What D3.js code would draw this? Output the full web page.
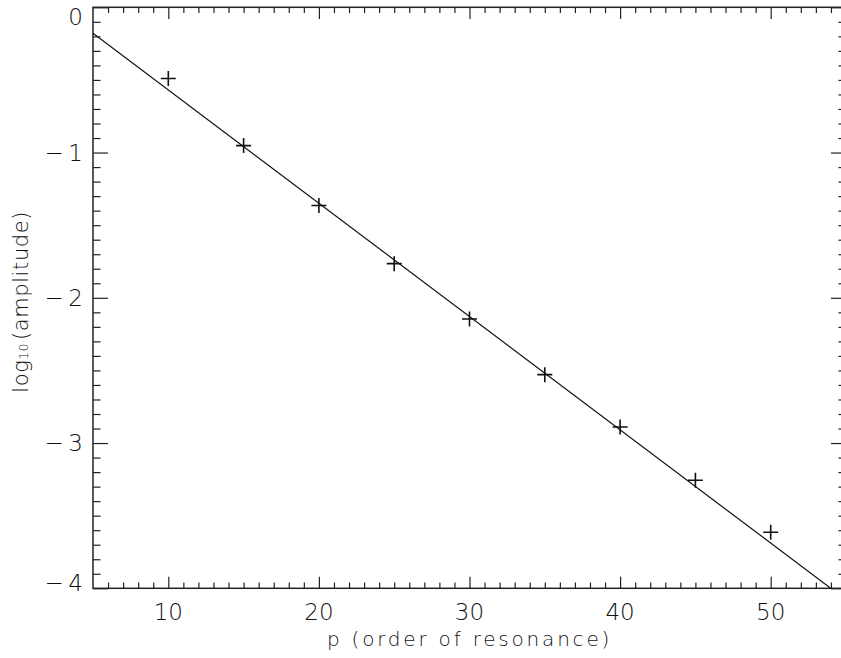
<!DOCTYPE html>
<html>
<head>
<meta charset="utf-8">
<script src="https://cdn.jsdelivr.net/npm/d3@7"></script>
<style>
  html, body { margin: 0; padding: 0; background: #fff; }
  svg { display: block; overflow: hidden; }
  text { font-family: "DejaVu Sans ExtraLight", "DejaVu Sans", sans-serif; font-weight: 200; fill: #111; }
</style>
</head>
<body>
<div id="chart"></div>
<script>
// resonance order p vs log10 amplitude
const pValues = [10, 15, 20, 25, 30, 35, 40, 45, 50]
const logAmp = [-0.49, -0.952, -1.365, -1.765, -2.146, -2.529, -2.889, -3.256, -3.614]
// least-squares line shown on the plot
const fitIntercept = 0.211
const fitSlope = -0.078
const xDomain = [5, 55]
const yDomain = [-4, 0]
const xMajor = [10, 20, 30, 40, 50]
const yMajor = [0, -1, -2, -3, -4]

const width = 841, height = 658
const margin = {top: 7.3, left: 93, right: -5, bottom: 69.7}
const x = d3.scaleLinear().domain(xDomain).range([margin.left, width - margin.right])
const y = d3.scaleLinear().domain(yDomain).range([height - margin.bottom, margin.top])
const plotW = x.range()[1] - x.range()[0]
const plotH = y.range()[0] - y.range()[1]
const xLen = plotH * 0.02, yLen = plotW * 0.02

const svg = d3.select('#chart').append('svg')
  .attr('width', width)
  .attr('height', height)

svg.append('clipPath').attr('id', 'plot-clip')
  .append('rect')
  .attr('x', x(xDomain[0])).attr('y', y(yDomain[1]))
  .attr('width', plotW).attr('height', plotH)

let xMinor = d3.range(xDomain[0] + 1, xDomain[1], 1).filter(v => !xMajor.includes(v))
let yMinor = d3.range(-39, 0, 1).map(v => v / 10).filter(v => !yMajor.includes(v))

function ticks(axis, scale, vals, len, pos) {
  let g = svg.append('g')
    .attr('transform', pos)
    .call(axis(scale).tickValues(vals).tickSize(-len).tickFormat(''))
  g.select('.domain').remove()
  g.selectAll('line').attr('stroke', '#222').attr('stroke-width', 1.2)
  return g
}

let bottomY = y(yDomain[0]), topY = y(yDomain[1])
let leftX = x(xDomain[0]), rightX = x(xDomain[1])

// bottom / top
ticks(d3.axisBottom, x, xMajor, xLen, `translate(0,${bottomY})`)
ticks(d3.axisBottom, x, xMinor, xLen / 2, `translate(0,${bottomY})`)
ticks(d3.axisTop, x, xMajor, xLen, `translate(0,${topY})`)
ticks(d3.axisTop, x, xMinor, xLen / 2, `translate(0,${topY})`)
// left / right
ticks(d3.axisLeft, y, yMajor, yLen, `translate(${leftX},0)`)
ticks(d3.axisLeft, y, yMinor, yLen / 2, `translate(${leftX},0)`)
ticks(d3.axisRight, y, yMajor, yLen, `translate(${rightX},0)`)
ticks(d3.axisRight, y, yMinor, yLen / 2, `translate(${rightX},0)`)

svg.append('rect')
  .attr('x', leftX).attr('y', topY)
  .attr('width', plotW).attr('height', plotH)
  .attr('fill', 'none')
  .attr('stroke', '#222')
  .attr('stroke-width', 1.5)

// tick labels
svg.append('g').selectAll('text')
  .data(xMajor)
  .join('text')
  .attr('x', d => x(d))
  .attr('y', bottomY + 32)
  .attr('text-anchor', 'middle')
  .attr('font-size', 23)
  .text(d => d)

svg.append('g').selectAll('text')
  .data(yMajor)
  .join('text')
  .attr('x', 83)
  .attr('y', d => Math.min(Math.max(y(d), topY + 9), bottomY - 6))
  .attr('dy', '0.36em')
  .attr('text-anchor', 'end')
  .attr('font-size', 23)
  .text(d => d === 0 ? '0' : '\u2212\u2009' + Math.abs(d))

// axis titles
svg.append('text')
  .attr('x', (leftX + rightX) / 2)
  .attr('y', 646)
  .attr('text-anchor', 'middle')
  .attr('font-size', 20)
  .attr('letter-spacing', 2.8)
  .text('p (order of resonance)')

let yt = svg.append('text')
  .attr('transform', `translate(28,${(topY + bottomY) / 2 + 4}) rotate(-90)`)
  .attr('text-anchor', 'middle')
  .attr('font-size', 21)
  .attr('letter-spacing', 0.6)
yt.append('tspan').text('log')
yt.append('tspan').attr('font-size', 12).text('10')
yt.append('tspan').attr('dx', 3).text('(amplitude)')

// fitted line
let plot = svg.append('g').attr('clip-path', 'url(#plot-clip)')
let fitLine = d3.line().x(d => x(d)).y(d => y(fitIntercept + fitSlope * d))
plot.append('path')
  .datum(xDomain)
  .attr('d', fitLine)
  .attr('fill', 'none')
  .attr('stroke', '#111')
  .attr('stroke-width', 1.2)

// data crosses
svg.append('g').selectAll('path')
  .data(pValues.map((p, i) => [p, logAmp[i]]))
  .join('path')
  .attr('transform', d => `translate(${x(d[0])},${y(d[1])})`)
  .attr('d', 'M-7.5,0H7.5M0,-7.5V7.5')
  .attr('stroke', '#111')
  .attr('stroke-width', 1.6)
  .attr('fill', 'none')
</script>
</body>
</html>
